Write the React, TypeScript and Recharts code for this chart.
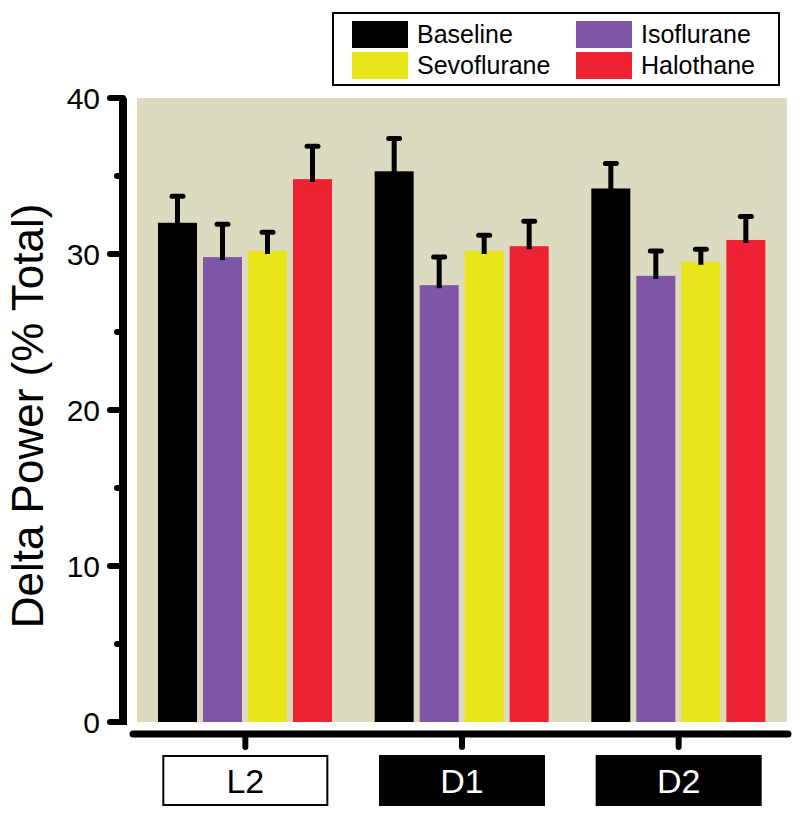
import { BarChart, Bar, XAxis, YAxis, Legend, ReferenceArea, ReferenceLine } from "recharts"

const categories = ["L2", "D1", "D2"]
const baseline = [32.0, 35.3, 34.2]
const baselineErr = [1.7, 2.1, 1.6]
const isoflurane = [29.8, 28.0, 28.6]
const isofluraneErr = [2.1, 1.8, 1.6]
const sevoflurane = [30.2, 30.2, 29.5]
const sevofluraneErr = [1.2, 1.0, 0.8]
const halothane = [34.8, 30.5, 30.9]
const halothaneErr = [2.1, 1.6, 1.5]
const yTicks = [0, 5, 10, 15, 20, 25, 30, 35, 40]
const yMin = -0.77
const yMax = 40

const series = [
  { key: "baseline", name: "Baseline", color: "#000000" },
  { key: "isoflurane", name: "Isoflurane", color: "#7E56A5" },
  { key: "sevoflurane", name: "Sevoflurane", color: "#E8E51B" },
  { key: "halothane", name: "Halothane", color: "#EE2233" },
]

const data = categories.map((c, i) => ({
  name: c,
  baseline: baseline[i],
  baselineErr: baselineErr[i],
  isoflurane: isoflurane[i],
  isofluraneErr: isofluraneErr[i],
  sevoflurane: sevoflurane[i],
  sevofluraneErr: sevofluraneErr[i],
  halothane: halothane[i],
  halothaneErr: halothaneErr[i],
}))

const FONT = "'Liberation Sans', Arial, sans-serif"
const AXIS_X = 123

// bar + upper-only error whisker, scaled from the bar's own pixel height
const makeShape = (key: string, color: string) => (props: any) => {
  const { x, y, width, height, payload } = props
  const v = payload[key]
  const e = payload[key + "Err"]
  const k = v ? height / v : 0
  const top = y - e * k
  const cx = x + width / 2
  return (
    <g>
      <rect x={x} y={y} width={width} height={height} fill={color} />
      <line x1={cx} x2={cx} y1={y + 3} y2={top} stroke="#000" strokeWidth={5} />
      <line x1={cx - 5.5} x2={cx + 5.5} y1={top} y2={top} stroke="#000" strokeWidth={5} strokeLinecap="round" />
    </g>
  )
}

const YTick = ({ x, y, payload }: any) => {
  const major = payload.value % 10 === 0
  return (
    <g>
      <line x1={x - (major ? 13 : 6)} x2={x} y1={y} y2={y} stroke="#000" strokeWidth={6} strokeLinecap="round" />
      {major && (
        <text x={x - 23} y={y + 11} textAnchor="end" fontSize={30} fontFamily={FONT} fill="#000">
          {payload.value}
        </text>
      )}
    </g>
  )
}

const XTick = ({ x, y, payload }: any) => {
  const light = payload.value === "L2"
  return (
    <g>
      <rect x={x - 82} y={y + 9} width={164} height={49} fill={light ? "#fff" : "#000"} stroke="#000" strokeWidth={2} />
      <text x={x} y={y + 46} textAnchor="middle" fontSize={34} fontFamily={FONT} fill={light ? "#000" : "#fff"}>
        {payload.value}
      </text>
    </g>
  )
}

// y axis spine: from value 0 to 40, set left of the plot background
const ySpine = (p: any) => (
  <line x1={AXIS_X} x2={AXIS_X} y1={Math.max(p.y1, p.y2) + 3} y2={Math.min(p.y1, p.y2)} stroke="#000" strokeWidth={8} />
)

// x axis spine: along the bottom edge, starting just right of the y spine
const xSpine = (p: any) => (
  <line x1={p.x1 + 10} x2={p.x2} y1={p.y1} y2={p.y2} stroke="#000" strokeWidth={7} strokeLinecap="round" />
)

const order = (v: string) => series.findIndex((s) => s.name === v)

const renderLegend = ({ payload }: any) => {
  const items = [...(payload || [])].sort((a: any, b: any) => order(a.value) - order(b.value))
  return (
    <div
      style={{
        position: "relative",
        width: 444,
        height: 70,
        border: "2px solid #000",
        background: "#fff",
        fontFamily: FONT,
        fontSize: 25,
      }}
    >
      {items.map((p: any, i: number) => {
        const col = i % 2
        const row = Math.floor(i / 2)
        return (
          <div key={i} style={{ position: "absolute", left: 18 + col * 224, top: 7 + row * 31, display: "flex", alignItems: "center" }}>
            <div style={{ width: 56, height: 27, background: p.color }} />
            <span style={{ marginLeft: 9, lineHeight: "27px", color: "#000" }}>{p.value}</span>
          </div>
        )
      })}
    </div>
  )
}

export default function App() {
  return (
    <div style={{ position: "absolute", left: 0, top: 0, width: 800, height: 821, background: "#fff" }}>
      <BarChart
        width={800}
        height={821}
        data={data}
        margin={{ top: 98, right: 12, bottom: 0, left: 0 }}
        barSize={39}
        barGap={6}
      >
        <ReferenceArea x1="L2" x2="D2" y1={0} y2={yMax} fill="#DDDBBF" fillOpacity={1} stroke="none" />
        <XAxis
          dataKey="name"
          height={87}
          padding={{ left: 14, right: 1 }}
          axisLine={false}
          tickLine={{ stroke: "#000", strokeWidth: 6, strokeLinecap: "round" }}
          tickSize={13}
          tickMargin={0}
          tick={<XTick />}
          interval={0}
        />
        <YAxis
          width={123}
          domain={[yMin, yMax]}
          ticks={yTicks}
          allowDataOverflow
          axisLine={false}
          tickLine={false}
          tickSize={0}
          tickMargin={0}
          tick={<YTick />}
          interval={0}
          label={{
            content: () => (
              <text
                x={43}
                y={416}
                transform="rotate(-90, 43, 416)"
                textAnchor="middle"
                fontSize={44}
                fontFamily={FONT}
                fill="#000"
              >
                Delta Power (% Total)
              </text>
            ),
          }}
        />
        <ReferenceLine
          segment={[{ x: "L2", y: 0 }, { x: "L2", y: yMax }]}
          ifOverflow="visible"
          shape={ySpine}
        />
        <ReferenceLine y={yMin} ifOverflow="visible" shape={xSpine} />
        <Legend
          layout="vertical"
          align="center"
          verticalAlign="middle"
          content={renderLegend}
          wrapperStyle={{ position: "absolute", left: 332, top: 12, width: 448, height: 74 }}
        />
        {series.map((s) => (
          <Bar
            key={s.key}
            dataKey={s.key}
            name={s.name}
            fill={s.color}
            isAnimationActive={false}
            shape={makeShape(s.key, s.color)}
          />
        ))}
      </BarChart>
    </div>
  )
}
